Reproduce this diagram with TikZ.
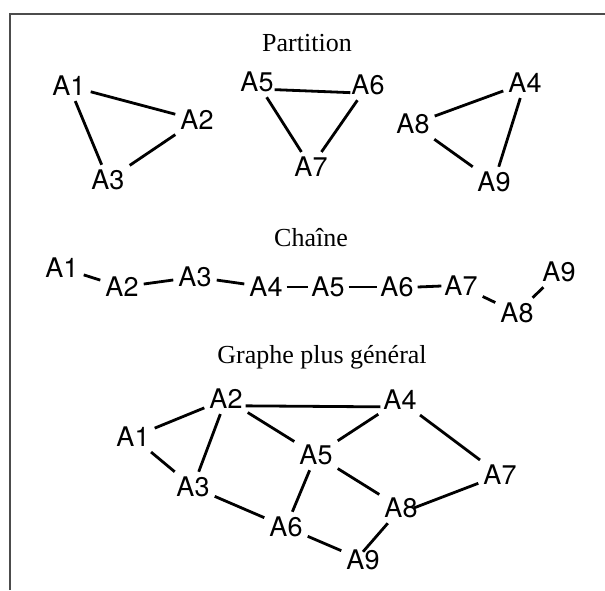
\documentclass[tikz,border=0pt]{standalone}
\usepackage{fontspec}
\newfontfamily\lblfont{TeX Gyre Heros}
\newfontfamily\ttlfont{Liberation Serif}
\begin{document}
\begin{tikzpicture}[x=1pt,y=-1pt,
  lab/.style={font=\lblfont\fontsize{27}{27}\selectfont, inner sep=5pt},
  ttl/.style={font=\ttlfont\fontsize{26}{26}\selectfont, inner sep=0pt},
  edge/.style={line width=2.8pt}]
\useasboundingbox (0,0) rectangle (605,590);
\draw[line width=1.8pt, black!70] (10,590) -- (10,14) -- (605,14);

% Partition
\node[ttl] (t1) at (307,43) {Partition};
\node[lab] (p1) at (69,86) {A1};
\node[lab] (p2) at (197,120) {A2};
\node[lab] (p3) at (108,180) {A3};
\node[lab] (p5) at (257,82) {A5};
\node[lab] (p6) at (368,85) {A6};
\node[lab] (p7) at (311,167) {A7};
\node[lab] (p8) at (413,124) {A8};
\node[lab] (p4) at (525,83) {A4};
\node[lab] (p9) at (494,182) {A9};
\draw[edge] (p1) -- (p2);
\draw[edge] (p1) -- (p3);
\draw[edge] (p2) -- (p3);
\draw[edge] ([yshift=2pt,xshift=-4pt]p5.base east) -- ([yshift=2pt,xshift=4pt]p6.base west);
\draw[edge] (p5) -- (p7);
\draw[edge] (p6) -- (p7);
\draw[edge] (p8) -- (p4);
\draw[edge] (p4) -- (p9);
\draw[edge] (p8) -- (p9);

% Chaine
\node[ttl] (t2) at (311,238) {Chaîne};
\node[lab] (c1) at (62,268) {A1};
\node[lab] (c2) at (122,287) {A2};
\node[lab] (c3) at (195,277) {A3};
\node[lab] (c4) at (266,287) {A4};
\node[lab] (c5) at (328,287) {A5};
\node[lab] (c6) at (397,287) {A6};
\node[lab] (c7) at (461,286) {A7};
\node[lab] (c8) at (517,313) {A8};
\node[lab] (c9) at (559,272) {A9};
\draw[edge] (c1) -- (c2);
\draw[edge] (c2) -- (c3);
\draw[edge] (c3) -- (c4);
\draw[edge] ([xshift=-1pt]c4.east) -- ([xshift=2pt]c5.west);
\draw[edge] ([xshift=-1pt]c5.east) -- ([xshift=2pt]c6.west);
\draw[edge] ([xshift=-1pt]c6.east) -- ([xshift=2pt]c7.west);
\draw[edge] (c7) -- (c8);
\draw[edge] (c8) -- (c9);

% Graphe plus general
\node[ttl] (t3) at (322,357) {Graphe plus général};
\node[lab] (g1) at (133,437) {A1};
\node[lab] (g2) at (226,399) {A2};
\node[lab] (g3) at (193,487) {A3};
\node[lab] (g4) at (400,400) {A4};
\node[lab] (g5) at (316,455) {A5};
\node[lab] (g6) at (286,527) {A6};
\node[lab] (g7) at (500,475) {A7};
\node[lab] (g8) at (401,508) {A8};
\node[lab] (g9) at (363,560) {A9};
\draw[edge] (g1) -- (g2);
\draw[edge] ([yshift=3pt,xshift=-2pt]g2.base east) -- ([yshift=3pt,xshift=2pt]g4.base west);
\draw[edge] (g2) -- (g3);
\draw[edge] (g2) -- (g5);
\draw[edge] (g4) -- (g5);
\draw[edge] (g4) -- (g7);
\draw[edge] (g1) -- (g3);
\draw[edge] (g5) -- (g6);
\draw[edge] (g5) -- (g8);
\draw[edge] (g3) -- (g6);
\draw[edge] (g7) -- ([xshift=-9pt]g8.east);
\draw[edge] (g6) -- (g9);
\draw[edge] (g8) -- ([yshift=-7pt]g9.north);
\end{tikzpicture}
\end{document}
